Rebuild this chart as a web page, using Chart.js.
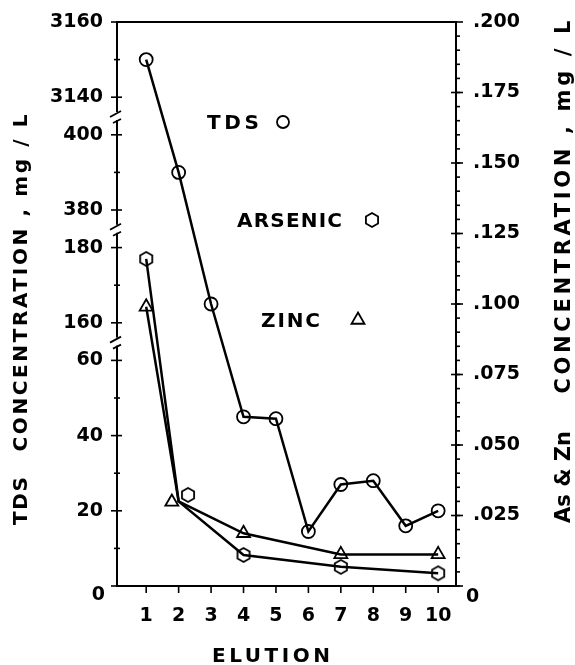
<!DOCTYPE html>
<html>
<head>
<meta charset="utf-8">
<script src="https://cdn.jsdelivr.net/npm/chart.js@4.4.1/dist/chart.umd.min.js"></script>
<style>
  html, body { margin: 0; padding: 0; background: #fff; }
  #wrap { width: 575px; height: 665px; position: relative; }
</style>
</head>
<body>
<div id="wrap"><canvas id="chart"></canvas></div>
<script>
// ---- values ----
const elution = [1, 2, 3, 4, 5, 6, 7, 8, 9, 10];
const tds = [3150, 390, 165, 45, 44.5, 14.5, 27, 28, 16, 20];

const metalElution = [1, 2, 4, 7, 10];
const arsenic = [0.116, 0.030, 0.011, 0.0068, 0.0045];
const zinc = [0.099, 0.030, 0.0187, 0.0112, 0.0112];

// at elution 2 the original draws the markers beside the joint of the lines
const arsenicMarkAt2 = [{ x: 2.29, y: 0.0323 }];
const zincMarkAt2 = [{ x: 1.79, y: 0.0298 }];

// broken TDS axis: the ranges that are shown
const tdsRanges = [[0, 60], [160, 180], [380, 400], [3140, 3160]];
const tdsMajor = [0, 20, 40, 60, 160, 180, 380, 400, 3140, 3160];
const tdsMinor = [10, 30, 50, 170, 390, 3150];

const metalMajor = [0, 0.025, 0.05, 0.075, 0.1, 0.125, 0.15, 0.175, 0.2];
const metalMinorStep = 0.005;

const xTicks = [1, 2, 3, 4, 5, 6, 7, 8, 9, 10];

// ---- helpers ----
const GAP = 10; // axis units left between the shown TDS ranges

function tdsToAxis(v) {
  let start = 0;
  for (let i = 0; i < tdsRanges.length; i++) {
    const [lo, hi] = tdsRanges[i];
    if (v <= hi || i === tdsRanges.length - 1) return start + Math.max(0, v - lo);
    start += (hi - lo) + GAP;
  }
}

const FONT = '"DejaVu Sans", sans-serif';
const tickFont = { family: FONT, size: 19, weight: 'bold' };

function hexagonImage(r, lw) {
  const size = Math.ceil(2 * r + lw + 2);
  const c = document.createElement('canvas');
  c.width = size; c.height = size;
  const g = c.getContext('2d');
  g.strokeStyle = '#000';
  g.lineWidth = lw;
  g.beginPath();
  for (let k = 0; k < 6; k++) {
    const a = -Math.PI / 2 + k * Math.PI / 3;
    const px = size / 2 + r * Math.cos(a), py = size / 2 + r * Math.sin(a);
    k ? g.lineTo(px, py) : g.moveTo(px, py);
  }
  g.closePath();
  g.stroke();
  return c;
}
const hexMark = hexagonImage(7, 1.8);

// text stretched to the span it takes in the original
function spacedText(ctx, text, cx, cy, span, size, angle) {
  ctx.save();
  ctx.font = `bold ${size}px ${FONT}`;
  ctx.letterSpacing = '0px';
  const w = ctx.measureText(text).width;
  const sp = text.length > 1 ? Math.max(0, (span - w) / (text.length - 1)) : 0;
  ctx.letterSpacing = sp + 'px';
  ctx.translate(cx, cy);
  if (angle) ctx.rotate(angle);
  ctx.fillStyle = '#000';
  ctx.textAlign = 'center';
  ctx.textBaseline = 'alphabetic';
  ctx.fillText(text, sp / 2, size * 0.365);
  ctx.restore();
}

function line(ctx, x1, y1, x2, y2) {
  ctx.beginPath(); ctx.moveTo(x1, y1); ctx.lineTo(x2, y2); ctx.stroke();
}

// keep the plot box where the original has it
function fixBox(prop, size) {
  return s => {
    s[prop] = size;
    s.paddingTop = 0; s.paddingBottom = 0; s.paddingLeft = 0; s.paddingRight = 0;
  };
}

// ---- frame, broken axis, ticks, titles and key ----
const decorations = {
  id: 'decorations',
  afterDraw(chart) {
    const { ctx, chartArea: a, scales } = chart;
    const yL = scales.y, yR = scales.y2, x = scales.x;
    ctx.save();
    ctx.strokeStyle = '#000';
    ctx.lineWidth = 2;
    ctx.strokeRect(a.left, a.top, a.right - a.left, a.bottom - a.top);

    // breaks in the left axis
    for (let i = 0; i < tdsRanges.length - 1; i++) {
      const p1 = yL.getPixelForValue(tdsToAxis(tdsRanges[i][1]));
      const p2 = yL.getPixelForValue(tdsToAxis(tdsRanges[i + 1][0]));
      const mid = (p1 + p2) / 2;
      ctx.fillStyle = '#fff';
      ctx.fillRect(a.left - 3, mid - 4, 6, 8);
      ctx.lineWidth = 1.8;
      line(ctx, a.left - 7, mid + 1, a.left + 4, mid - 5);
      line(ctx, a.left - 4, mid + 7, a.left + 4, mid + 3);
    }

    ctx.lineWidth = 1.6;
    tdsMajor.forEach(v => {
      const p = yL.getPixelForValue(tdsToAxis(v));
      line(ctx, a.left - 6, p, a.left + 5, p);
    });
    tdsMinor.forEach(v => {
      const p = yL.getPixelForValue(tdsToAxis(v));
      line(ctx, a.left - 3, p, a.left + 3, p);
    });
    metalMajor.forEach(v => {
      const p = yR.getPixelForValue(v);
      line(ctx, a.right - 5, p, a.right + 7, p);
    });
    for (let v = 0; v < 0.2; v += metalMinorStep) {
      const p = yR.getPixelForValue(v);
      line(ctx, a.right, p, a.right + 4, p);
    }
    xTicks.forEach(v => {
      const p = x.getPixelForValue(v);
      line(ctx, p, a.bottom, p, a.bottom + 7);
    });

    // zero labels sit below the corner
    ctx.fillStyle = '#000';
    ctx.font = `bold 19px ${FONT}`;
    ctx.textBaseline = 'middle';
    ctx.textAlign = 'right';
    ctx.fillText('0', a.left - 12, a.bottom + 9);
    ctx.textAlign = 'left';
    ctx.fillText('0', a.right + 10, a.bottom + 11);

    // axis titles
    const up = -Math.PI / 2;
    spacedText(ctx, 'TDS', 20, 501, 48, 20, up);
    spacedText(ctx, 'CONCENTRATION , mg / L', 20, 283, 337, 20, up);
    spacedText(ctx, 'As & Zn', 562, 477, 90, 21, up);
    spacedText(ctx, 'CONCENTRATION , mg / L', 562, 207, 373, 21, up);
    spacedText(ctx, 'ELUTION', 271, 655, 118, 20, 0);

    // key
    spacedText(ctx, 'TDS', 233, 122, 52, 20, 0);
    spacedText(ctx, 'ARSENIC', 289.5, 220, 105, 20, 0);
    spacedText(ctx, 'ZINC', 290.5, 320, 59, 20, 0);
    ctx.lineWidth = 1.8;
    ctx.beginPath(); ctx.arc(283, 122, 6, 0, Math.PI * 2); ctx.stroke();
    ctx.drawImage(hexMark, 372 - hexMark.width / 2, 220 - hexMark.height / 2);
    ctx.beginPath();
    for (let k = 0; k < 3; k++) {
      const ang = -Math.PI / 2 + k * 2 * Math.PI / 3;
      const px = 358 + 7.5 * Math.cos(ang), py = 320 + 7.5 * Math.sin(ang);
      k ? ctx.lineTo(px, py) : ctx.moveTo(px, py);
    }
    ctx.closePath(); ctx.stroke();
    ctx.restore();
  }
};

const pts = (xs, ys) => xs.map((v, i) => ({ x: v, y: ys[i] }));
const hideAt2 = (xs, r) => xs.map(v => v === 2 ? 0 : r);

new Chart(document.getElementById('chart'), {
  type: 'line',
  data: {
    datasets: [
      {
        label: 'TDS', yAxisID: 'y',
        data: elution.map((v, i) => ({ x: v, y: tdsToAxis(tds[i]) })),
        borderColor: '#000', borderWidth: 2.5, backgroundColor: 'rgba(0,0,0,0)',
        pointStyle: 'circle', pointRadius: 6.5, pointBorderWidth: 1.8, pointBorderColor: '#000'
      },
      {
        label: 'Arsenic', yAxisID: 'y2',
        data: pts(metalElution, arsenic),
        borderColor: '#000', borderWidth: 2.5, backgroundColor: 'rgba(0,0,0,0)',
        pointStyle: hexMark, pointRadius: hideAt2(metalElution, 7)
      },
      {
        label: 'Zinc', yAxisID: 'y2',
        data: pts(metalElution, zinc),
        borderColor: '#000', borderWidth: 2.5, backgroundColor: 'rgba(0,0,0,0)',
        pointStyle: 'triangle', pointRadius: hideAt2(metalElution, 7.5), pointBorderWidth: 1.8, pointBorderColor: '#000'
      },
      {
        label: 'Arsenic mark', yAxisID: 'y2', showLine: false,
        data: arsenicMarkAt2, pointStyle: hexMark, pointRadius: 7
      },
      {
        label: 'Zinc mark', yAxisID: 'y2', showLine: false,
        data: zincMarkAt2, pointStyle: 'triangle', pointRadius: 7.5,
        pointBorderWidth: 1.8, pointBorderColor: '#000', backgroundColor: 'rgba(0,0,0,0)'
      }
    ]
  },
  options: {
    responsive: true, maintainAspectRatio: false,
    animation: false, events: [],
    layout: { autoPadding: false, padding: { top: 22, left: 0, right: 0, bottom: 0 } },
    plugins: { legend: { display: false }, tooltip: { enabled: false } },
    scales: {
      x: {
        type: 'linear', min: 0.1, max: 10.55,
        afterBuildTicks: s => { s.ticks = xTicks.map(v => ({ value: v })); },
        afterFit: fixBox('height', 79),
        grid: { display: false, drawTicks: false }, border: { display: false },
        ticks: { color: '#000', font: tickFont, padding: 19, autoSkip: false, maxRotation: 0, callback: v => String(v) }
      },
      y: {
        type: 'linear', position: 'left', min: 0, max: tdsToAxis(3160),
        afterBuildTicks: s => { s.ticks = tdsMajor.map(v => ({ value: tdsToAxis(v) })); },
        afterFit: fixBox('width', 117),
        grid: { display: false, drawTicks: false }, border: { display: false },
        ticks: {
          color: '#000', font: tickFont, padding: 14, autoSkip: false,
          callback: v => {
            const t = tdsMajor.find(m => tdsToAxis(m) === v);
            return (t === undefined || t === 0) ? '' : String(t);
          }
        }
      },
      y2: {
        type: 'linear', position: 'right', min: 0, max: 0.2,
        afterBuildTicks: s => { s.ticks = metalMajor.map(v => ({ value: v })); },
        afterFit: fixBox('width', 119),
        grid: { display: false, drawTicks: false }, border: { display: false },
        ticks: {
          color: '#000', font: tickFont, padding: 17, autoSkip: false,
          callback: v => v === 0 ? '' : v.toFixed(3).slice(1)
        }
      }
    }
  },
  plugins: [decorations]
});
</script>
</body>
</html>
